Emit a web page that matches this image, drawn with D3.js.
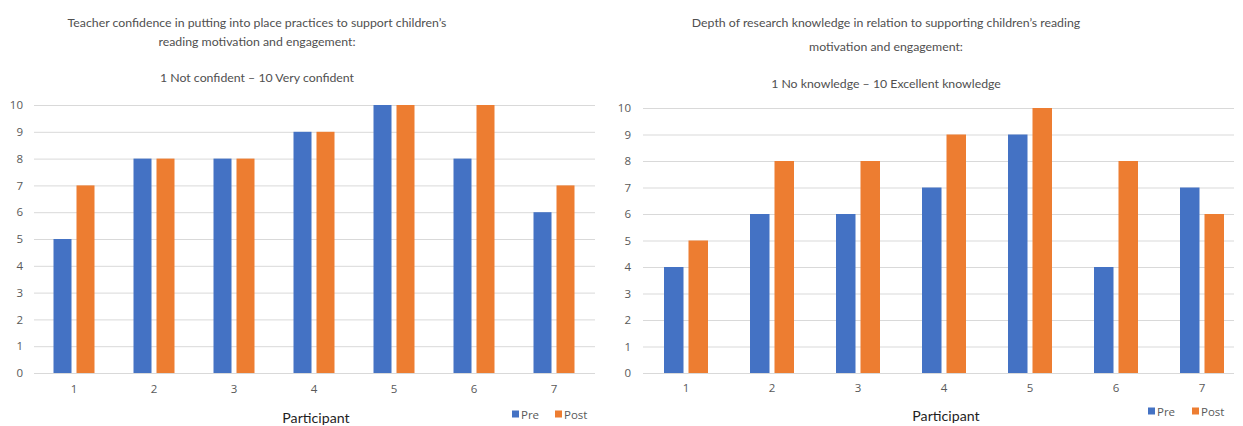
<!DOCTYPE html>
<html>
<head>
<meta charset="utf-8">
<script src="https://cdn.jsdelivr.net/npm/d3@7"></script>
<style>
  html, body { margin: 0; padding: 0; background: #fff; }
  svg { display: block; font-family: "Open Sans", "Noto Sans", sans-serif; }
</style>
</head>
<body>
<svg id="chart" width="1243" height="426"></svg>
<script>
// Participants and rating scale
const participants = ["1", "2", "3", "4", "5", "6", "7"];
const seriesNames = ["Pre", "Post"];
const yTicks = [0, 1, 2, 3, 4, 5, 6, 7, 8, 9, 10];

// Confidence ratings (1 Not confident – 10 Very confident)
const confidencePre  = [5, 8, 8, 9, 10, 8, 6];
const confidencePost = [7, 8, 8, 9, 10, 10, 7];

// Research knowledge ratings (1 No knowledge – 10 Excellent knowledge)
const knowledgePre  = [4, 6, 6, 7, 9, 4, 7];
const knowledgePost = [5, 8, 8, 9, 10, 8, 6];

const confidenceTitle = [
  "Teacher confidence in putting into place practices to support children\u2019s",
  "reading motivation and engagement:"
];
const confidenceSubtitle = "1 Not confident \u2013 10 Very confident";
const knowledgeTitle = [
  "Depth of research knowledge in relation to supporting children\u2019s reading",
  "motivation and engagement:"
];
const knowledgeSubtitle = "1 No knowledge \u2013 10 Excellent knowledge";

const colors = { Pre: "#4472C4", Post: "#ED7D31" };
const textGray = "#595959";
const gridGray = "#d9d9d9";
const titleFont = "Lato, \"Open Sans\", sans-serif";

const svg = d3.select("#chart");

function drawPanel(opt) {
  const g = svg.append("g");
  const y = d3.scaleLinear().domain([0, 10]).range([opt.bottom, opt.top]);
  const x0 = d3.scaleBand().domain(participants).range([opt.left, opt.right]).padding(0);
  const cluster = opt.barWidth * 2 + opt.gap;
  const x1 = d3.scaleBand().domain(seriesNames)
    .range([(x0.bandwidth() - cluster) / 2, (x0.bandwidth() + cluster) / 2])
    .paddingInner(opt.gap / (opt.barWidth + opt.gap));

  // Titles
  g.append("g").selectAll("text").data(opt.title).join("text")
    .attr("x", opt.titleX)
    .attr("y", (d, i) => opt.titleY[i])
    .attr("text-anchor", "middle")
    .attr("dominant-baseline", "central")
    .attr("font-family", titleFont)
    .attr("font-size", 12.3)
    .attr("fill", "#505050")
    .text(d => d);
  g.append("text")
    .attr("x", opt.titleX).attr("y", opt.subtitleY)
    .attr("text-anchor", "middle").attr("dominant-baseline", "central")
    .attr("font-family", titleFont)
    .attr("font-size", 12.3).attr("fill", "#505050")
    .text(opt.subtitle);

  // Gridlines
  g.append("g").selectAll("line").data(yTicks).join("line")
    .attr("x1", opt.left).attr("x2", opt.gridRight)
    .attr("y1", d => y(d) + 0.5).attr("y2", d => y(d) + 0.5)
    .attr("stroke", gridGray).attr("stroke-width", 1);

  // Y axis labels
  const yAxis = d3.axisLeft(y).tickValues(yTicks).tickSize(0).tickPadding(opt.left - opt.yLabelRight);
  const ya = g.append("g").attr("transform", `translate(${opt.left},0)`).call(yAxis);
  ya.select(".domain").remove();
  ya.selectAll("text").attr("font-size", 11.5).attr("fill", textGray)
    .attr("font-family", "\"Open Sans\", sans-serif");

  // Bars
  const rows = participants.map((p, i) => ({ p, Pre: opt.pre[i], Post: opt.post[i] }));
  g.append("g").selectAll("g").data(rows).join("g")
    .attr("transform", d => `translate(${x0(d.p)},0)`)
    .selectAll("rect")
    .data(d => seriesNames.map(s => ({ s, v: d[s] })))
    .join("rect")
    .attr("x", d => x1(d.s))
    .attr("width", x1.bandwidth())
    .attr("y", d => y(d.v))
    .attr("height", d => y(0) - y(d.v))
    .attr("fill", d => colors[d.s]);

  // X axis labels
  const xAxis = d3.axisBottom(x0).tickSize(0).tickPadding(opt.xLabelY - opt.bottom - 5);
  const xa = g.append("g").attr("transform", `translate(0,${opt.bottom})`).call(xAxis);
  xa.select(".domain").remove();
  xa.selectAll("text").attr("font-size", 11.5).attr("fill", textGray)
    .attr("font-family", "\"Open Sans\", sans-serif");

  // Axis title
  g.append("text")
    .attr("x", opt.axisTitleX).attr("y", opt.axisTitleBaseline)
    .attr("text-anchor", "middle")
    .attr("font-family", titleFont)
    .attr("font-size", 14.2).attr("fill", "#1f1f1f")
    .text("Participant");

  // Legend
  const lg = g.append("g").selectAll("g").data(seriesNames).join("g")
    .attr("transform", (d, i) => `translate(${opt.legendX[i]},${opt.legendY})`);
  lg.append("rect").attr("x", 0).attr("y", -3.5).attr("width", 7).attr("height", 7)
    .attr("fill", d => colors[d]);
  lg.append("text").attr("x", 9).attr("y", 0)
    .attr("dominant-baseline", "central")
    .attr("font-size", 11.5).attr("fill", textGray)
    .text(d => d);
}

drawPanel({
  pre: confidencePre, post: confidencePost,
  title: confidenceTitle, subtitle: confidenceSubtitle,
  titleX: 257, titleY: [22, 41], subtitleY: 77,
  left: 34, right: 594, gridRight: 595, top: 105, bottom: 373,
  yLabelRight: 23, xLabelY: 390,
  barWidth: 18, gap: 5,
  axisTitleX: 316, axisTitleBaseline: 423,
  legendX: [512, 555], legendY: 414
});

drawPanel({
  pre: knowledgePre, post: knowledgePost,
  title: knowledgeTitle, subtitle: knowledgeSubtitle,
  titleX: 886, titleY: [22, 46], subtitleY: 83,
  left: 643, right: 1245, gridRight: 1234, top: 108, bottom: 373,
  yLabelRight: 631, xLabelY: 389,
  barWidth: 19.5, gap: 5,
  axisTitleX: 946, axisTitleBaseline: 421,
  legendX: [1148, 1192], legendY: 411
});
</script>
</body>
</html>
